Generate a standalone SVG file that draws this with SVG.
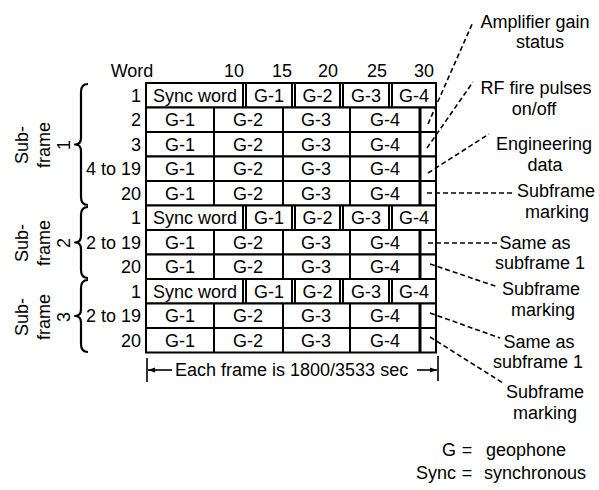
<svg xmlns="http://www.w3.org/2000/svg" width="599" height="490" viewBox="0 0 599 490">
<style>
text{font-family:"Liberation Sans",Arial,sans-serif;font-size:18px;fill:#000}
.m{text-anchor:middle}
.e{text-anchor:end}
.lbl{font-size:18px;text-anchor:middle}
.cell{fill:#fff;stroke:#000;stroke-width:2}
.div{fill:none;stroke:#000;stroke-width:2}
.thick{fill:none;stroke:#000;stroke-width:3}
.brace{fill:none;stroke:#000;stroke-width:2.2;stroke-linejoin:round}
.lead{fill:none;stroke:#000;stroke-width:1.6;stroke-dasharray:5 3}
.dim{fill:none;stroke:#000;stroke-width:1.6}
</style>
<defs>
<marker id="ah" viewBox="0 0 10 10" refX="10" refY="5" markerWidth="7" markerHeight="7" orient="auto-start-reverse" markerUnits="userSpaceOnUse">
<path d="M0 1.5L10 5L0 8.5Z" fill="#000"/>
</marker>
</defs>
<rect width="599" height="490" fill="#fff"/>

<g id="header">
<text x="132" y="77" class="m">Word</text>
<text x="234" y="77" class="m">10</text>
<text x="282" y="77" class="m">15</text>
<text x="328" y="77" class="m">20</text>
<text x="377" y="77" class="m">25</text>
<text x="424" y="77" class="m">30</text>
</g>

<!-- Subframe 1 -->
<g id="s1-r1">
<rect class="cell" x="146" y="83" width="290" height="24.5"/>
<path class="div" d="M243 83V107.5M246 83V107.5M292 83V107.5M295 83V107.5M340 83V107.5M343 83V107.5M389 83V107.5M392 83V107.5"/>
<text x="141" y="101.75" class="e">1</text>
<text x="195" y="101.75" class="m">Sync word</text>
<text x="269" y="101.75" class="m">G-1</text>
<text x="317.5" y="101.75" class="m">G-2</text>
<text x="366" y="101.75" class="m">G-3</text>
<text x="414" y="101.75" class="m">G-4</text>
</g>
<g id="s1-r2">
<rect class="cell" x="146" y="107.5" width="290" height="24.5"/>
<path class="div" d="M214 107.5V132M283 107.5V132M350 107.5V132"/>
<path class="thick" d="M420 107.5V132"/>
<text x="141" y="126.25" class="e">2</text>
<text x="180" y="126.25" class="m">G-1</text>
<text x="248" y="126.25" class="m">G-2</text>
<text x="316" y="126.25" class="m">G-3</text>
<text x="385" y="126.25" class="m">G-4</text>
</g>
<g id="s1-r3">
<rect class="cell" x="146" y="132" width="290" height="24.5"/>
<path class="div" d="M214 132V156.5M283 132V156.5M350 132V156.5"/>
<path class="thick" d="M420 132V156.5"/>
<text x="141" y="150.75" class="e">3</text>
<text x="180" y="150.75" class="m">G-1</text>
<text x="248" y="150.75" class="m">G-2</text>
<text x="316" y="150.75" class="m">G-3</text>
<text x="385" y="150.75" class="m">G-4</text>
</g>
<g id="s1-r4">
<rect class="cell" x="146" y="156.5" width="290" height="24.5"/>
<path class="div" d="M214 156.5V181M283 156.5V181M350 156.5V181"/>
<path class="thick" d="M420 156.5V181"/>
<text x="141" y="175.25" class="e">4 to 19</text>
<text x="180" y="175.25" class="m">G-1</text>
<text x="248" y="175.25" class="m">G-2</text>
<text x="316" y="175.25" class="m">G-3</text>
<text x="385" y="175.25" class="m">G-4</text>
</g>
<g id="s1-r5">
<rect class="cell" x="146" y="181" width="290" height="24.5"/>
<path class="div" d="M214 181V205.5M283 181V205.5M350 181V205.5"/>
<path class="thick" d="M420 181V205.5"/>
<text x="141" y="199.75" class="e">20</text>
<text x="180" y="199.75" class="m">G-1</text>
<text x="248" y="199.75" class="m">G-2</text>
<text x="316" y="199.75" class="m">G-3</text>
<text x="385" y="199.75" class="m">G-4</text>
</g>

<!-- Subframe 2 -->
<g id="s2-r1">
<rect class="cell" x="146" y="205.5" width="290" height="24.5"/>
<path class="div" d="M243 205.5V230M246 205.5V230M292 205.5V230M295 205.5V230M340 205.5V230M343 205.5V230M389 205.5V230M392 205.5V230"/>
<text x="141" y="224.25" class="e">1</text>
<text x="195" y="224.25" class="m">Sync word</text>
<text x="269" y="224.25" class="m">G-1</text>
<text x="317.5" y="224.25" class="m">G-2</text>
<text x="366" y="224.25" class="m">G-3</text>
<text x="414" y="224.25" class="m">G-4</text>
</g>
<g id="s2-r2">
<rect class="cell" x="146" y="230" width="290" height="24.5"/>
<path class="div" d="M214 230V254.5M283 230V254.5M350 230V254.5"/>
<path class="thick" d="M420 230V254.5"/>
<text x="141" y="248.75" class="e">2 to 19</text>
<text x="180" y="248.75" class="m">G-1</text>
<text x="248" y="248.75" class="m">G-2</text>
<text x="316" y="248.75" class="m">G-3</text>
<text x="385" y="248.75" class="m">G-4</text>
</g>
<g id="s2-r3">
<rect class="cell" x="146" y="254.5" width="290" height="24.5"/>
<path class="div" d="M214 254.5V279M283 254.5V279M350 254.5V279"/>
<path class="thick" d="M420 254.5V279"/>
<text x="141" y="273.25" class="e">20</text>
<text x="180" y="273.25" class="m">G-1</text>
<text x="248" y="273.25" class="m">G-2</text>
<text x="316" y="273.25" class="m">G-3</text>
<text x="385" y="273.25" class="m">G-4</text>
</g>

<!-- Subframe 3 -->
<g id="s3-r1">
<rect class="cell" x="146" y="279" width="290" height="24.5"/>
<path class="div" d="M243 279V303.5M246 279V303.5M292 279V303.5M295 279V303.5M340 279V303.5M343 279V303.5M389 279V303.5M392 279V303.5"/>
<text x="141" y="297.75" class="e">1</text>
<text x="195" y="297.75" class="m">Sync word</text>
<text x="269" y="297.75" class="m">G-1</text>
<text x="317.5" y="297.75" class="m">G-2</text>
<text x="366" y="297.75" class="m">G-3</text>
<text x="414" y="297.75" class="m">G-4</text>
</g>
<g id="s3-r2">
<rect class="cell" x="146" y="303.5" width="290" height="24.5"/>
<path class="div" d="M214 303.5V328M283 303.5V328M350 303.5V328"/>
<path class="thick" d="M420 303.5V328"/>
<text x="141" y="322.25" class="e">2 to 19</text>
<text x="180" y="322.25" class="m">G-1</text>
<text x="248" y="322.25" class="m">G-2</text>
<text x="316" y="322.25" class="m">G-3</text>
<text x="385" y="322.25" class="m">G-4</text>
</g>
<g id="s3-r3">
<rect class="cell" x="146" y="328" width="290" height="24.5"/>
<path class="div" d="M214 328V352.5M283 328V352.5M350 328V352.5"/>
<path class="thick" d="M420 328V352.5"/>
<text x="141" y="346.75" class="e">20</text>
<text x="180" y="346.75" class="m">G-1</text>
<text x="248" y="346.75" class="m">G-2</text>
<text x="316" y="346.75" class="m">G-3</text>
<text x="385" y="346.75" class="m">G-4</text>
</g>

<!-- Braces and subframe labels -->
<g id="subframe1">
<path class="brace" d="M88 84Q81 84 81 92L81 138Q81 144.5 75 144.5Q81 144.5 81 151L81 197Q81 205 88 205"/>
<text class="m" transform="translate(28 145) rotate(-90)">Sub-</text>
<text class="m" transform="translate(50 145) rotate(-90)">frame</text>
<text class="m" transform="translate(70 145) rotate(-90)">1</text>
</g>
<g id="subframe2">
<path class="brace" d="M88 207Q81 207 81 215L81 236Q81 242.5 75 242.5Q81 242.5 81 249L81 270Q81 278 88 278"/>
<text class="m" transform="translate(28 243) rotate(-90)">Sub-</text>
<text class="m" transform="translate(50 243) rotate(-90)">frame</text>
<text class="m" transform="translate(70 243) rotate(-90)">2</text>
</g>
<g id="subframe3">
<path class="brace" d="M88 280Q81 280 81 288L81 309.5Q81 316 75 316Q81 316 81 322.5L81 344Q81 352 88 352"/>
<text class="m" transform="translate(28 317) rotate(-90)">Sub-</text>
<text class="m" transform="translate(50 317) rotate(-90)">frame</text>
<text class="m" transform="translate(70 317) rotate(-90)">3</text>
</g>

<!-- Right-side labels -->
<g id="lbl-amp"><text x="535" y="27.75" class="lbl">Amplifier gain</text><text x="540" y="48.25" class="lbl">status</text></g>
<g id="lbl-rf"><text x="536" y="94.25" class="lbl">RF fire pulses</text><text x="534" y="114.75" class="lbl">on/off</text></g>
<g id="lbl-eng"><text x="544" y="150.25" class="lbl">Engineering</text><text x="545" y="170.75" class="lbl">data</text></g>
<g id="lbl-sm1"><text x="556" y="197.25" class="lbl">Subframe</text><text x="557" y="217.75" class="lbl">marking</text></g>
<g id="lbl-same2"><text x="535" y="248.75" class="lbl">Same as</text><text x="540" y="269.25" class="lbl">subframe 1</text></g>
<g id="lbl-sm2"><text x="541" y="295.25" class="lbl">Subframe</text><text x="543" y="315.75" class="lbl">marking</text></g>
<g id="lbl-same3"><text x="539" y="347.75" class="lbl">Same as</text><text x="538" y="368.25" class="lbl">subframe 1</text></g>
<g id="lbl-sm3"><text x="545" y="398.25" class="lbl">Subframe</text><text x="545" y="418.75" class="lbl">marking</text></g>

<g id="frame-note">
<text x="175" y="376">Each frame is 1800/3533 sec</text>
</g>

<g id="legend">
<text x="456" y="456" class="e">G</text>
<text x="467" y="456" class="m">=</text>
<text x="486" y="456">geophone</text>
<text x="456" y="479" class="e">Sync</text>
<text x="467" y="479" class="m">=</text>
<text x="484" y="479">synchronous</text>
</g>

<g id="connectors">
<path class="lead" d="M428 124L473 22"/>
<path class="lead" d="M427 148L473 82"/>
<path class="lead" d="M428 173L489 134"/>
<path class="lead" d="M427 193L514 193"/>
<path class="lead" d="M428 243L498 243"/>
<path class="lead" d="M430 264L498 287"/>
<path class="lead" d="M430 313L500 338"/>
<path class="lead" d="M430 337L503 383"/>
<path class="dim" d="M147 358V382M438 356V381"/>
<path class="dim" d="M172 370H148" marker-end="url(#ah)"/>
<path class="dim" d="M417 370H437" marker-end="url(#ah)"/>
</g>
</svg>
